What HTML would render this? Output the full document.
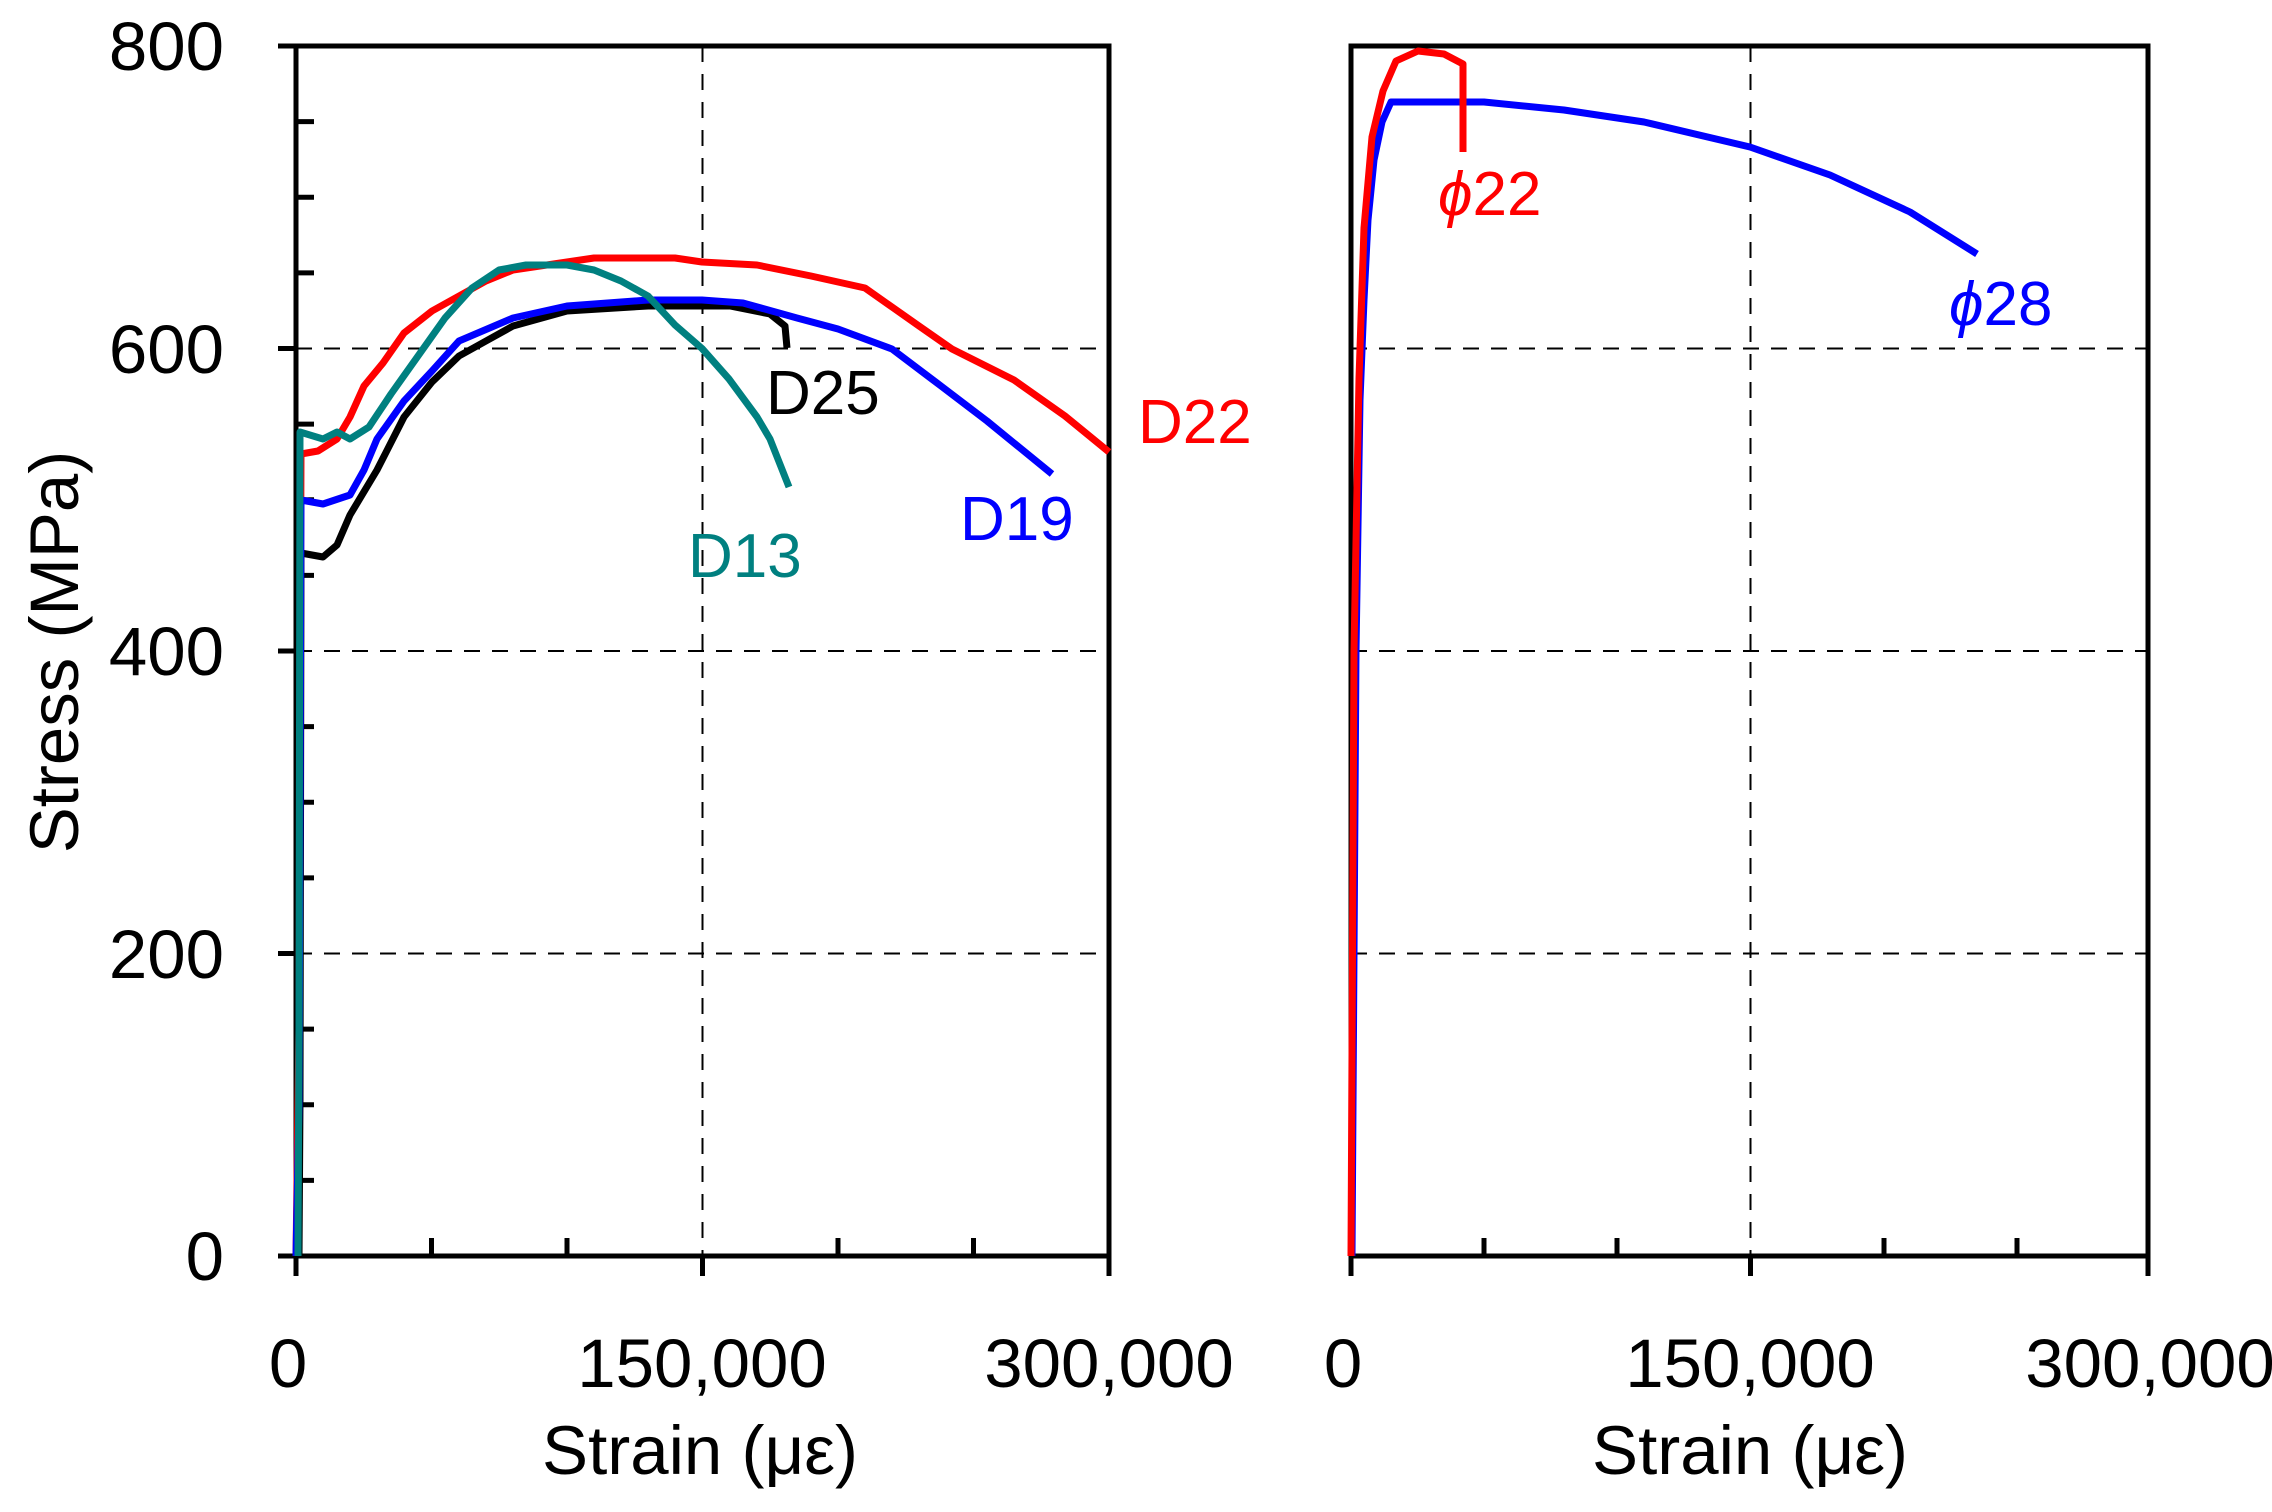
<!DOCTYPE html>
<html><head><meta charset="utf-8"><style>
html,body{margin:0;padding:0;background:#fff;}
svg text{font-family:"Liberation Sans",Arial,sans-serif;}
</style></head><body>
<svg width="2272" height="1507" viewBox="0 0 2272 1507" xmlns="http://www.w3.org/2000/svg">
<rect width="2272" height="1507" fill="#fff"/>
<g stroke="#000" stroke-width="2" stroke-dasharray="16,12" fill="none">
<line x1="296" y1="953.5" x2="1109" y2="953.5"/>
<line x1="296" y1="651" x2="1109" y2="651"/>
<line x1="296" y1="348.5" x2="1109" y2="348.5"/>
<line x1="702.5" y1="46" x2="702.5" y2="1256"/>
<line x1="1351" y1="953.5" x2="2148" y2="953.5"/>
<line x1="1351" y1="651" x2="2148" y2="651"/>
<line x1="1351" y1="348.5" x2="2148" y2="348.5"/>
<line x1="1750.5" y1="46" x2="1750.5" y2="1256"/>
</g>
<g stroke="#000" stroke-width="5" fill="none">
<rect x="296" y="46" width="813" height="1210"/>
<rect x="1351" y="46" width="797" height="1210"/>
<path d="M278 46H296M278 348.5H296M278 651H296M278 953.5H296M278 1256H296"/>
<path d="M296 121.6H314M296 197.3H314M296 272.9H314M296 424.1H314M296 499.8H314M296 575.4H314M296 726.6H314M296 802.3H314M296 877.9H314M296 1029.1H314M296 1104.8H314M296 1180.4H314"/>
<path d="M296 1256V1276M702.5 1256V1276M1109 1256V1276"/>
<path d="M431.5 1256V1238M567 1256V1238M838 1256V1238M973.5 1256V1238"/>
<path d="M1351 1256V1276M1750.5 1256V1276M2148 1256V1276"/>
<path d="M1484 1256V1238M1617 1256V1238M1884 1256V1238M2017 1256V1238"/>
</g>
<g font-size="69" fill="#000">
<text x="224" y="70" text-anchor="end">800</text>
<text x="224" y="373" text-anchor="end">600</text>
<text x="224" y="675" text-anchor="end">400</text>
<text x="224" y="978" text-anchor="end">200</text>
<text x="224" y="1280" text-anchor="end">0</text>
<text x="288" y="1387" text-anchor="middle">0</text>
<text x="702" y="1387" text-anchor="middle">150,000</text>
<text x="1109" y="1387" text-anchor="middle">300,000</text>
<text x="1343" y="1387" text-anchor="middle">0</text>
<text x="1750" y="1387" text-anchor="middle">150,000</text>
<text x="2150" y="1387" text-anchor="middle">300,000</text>
<text x="700" y="1474" text-anchor="middle">Strain (με)</text>
<text x="1750" y="1474" text-anchor="middle">Strain (με)</text>
<text transform="translate(78,652) rotate(-90)" text-anchor="middle">Stress (MPa)</text>
</g>
<g fill="none" stroke-width="7" stroke-linejoin="round">
<polyline stroke="#ff0000" points="296,1256 299,1029 301,454 318,451 337,439 350,417 364,386 383,363 404,333 432,311 459,296 486,281 513,270 567,262 594,258 675,258 702,262 757,265 811,276 865,288 919,326 952,349 1014,380 1065,416 1109,452"/>
<polyline stroke="#000" points="299,1256 300,1100 301,553 323,557 337,545 350,515 377,470 404,417 432,382 459,356 486,341 513,326 567,311 648,306 730,306 770,314 785,326 787,348"/>
<polyline stroke="#0000ff" points="296,1256 299,1104 301,500 323,504 350,495 364,470 377,439 404,401 432,371 459,341 513,318 567,306 648,300 702,300 743,303 797,318 838,329 892,349 941,386 987,421 1052,474"/>
<polyline stroke="#008080" points="298,1256 299,1029 300,432 323,439 337,432 350,439 369,427 391,394 418,356 445,318 472,288 499,270 526,265 567,265 594,270 621,281 648,296 675,325 702,348.5 729,379 757,417 770,439 789,487"/>
</g>
<g font-size="62">
<text x="766" y="414" fill="#000">D25</text>
<text x="1138" y="443" fill="#ff0000">D22</text>
<text x="960" y="540" fill="#0000ff">D19</text>
<text x="688" y="577" fill="#008080">D13</text>
</g>
<g fill="none" stroke-width="7" stroke-linejoin="round">
<polyline stroke="#0000ff" points="1352,1256 1356,651 1360,400 1364,300 1368,220 1374,160 1382,122 1391,102 1484,102 1564,110 1644,122 1750,147 1830,175 1910,212 1977,254"/>
<polyline stroke="#ff0000" points="1351,1256 1354,651 1359,379 1364,228 1372,137 1383,91 1396,61 1418,51 1444,54 1463,64 1463,152"/>
</g>
<g font-size="62" font-style="italic">
<text x="1438" y="215" fill="#ff0000">ϕ<tspan font-style="normal">22</tspan></text>
<text x="1949" y="325" fill="#0000ff">ϕ<tspan font-style="normal">28</tspan></text>
</g>
</svg>
</body></html>
